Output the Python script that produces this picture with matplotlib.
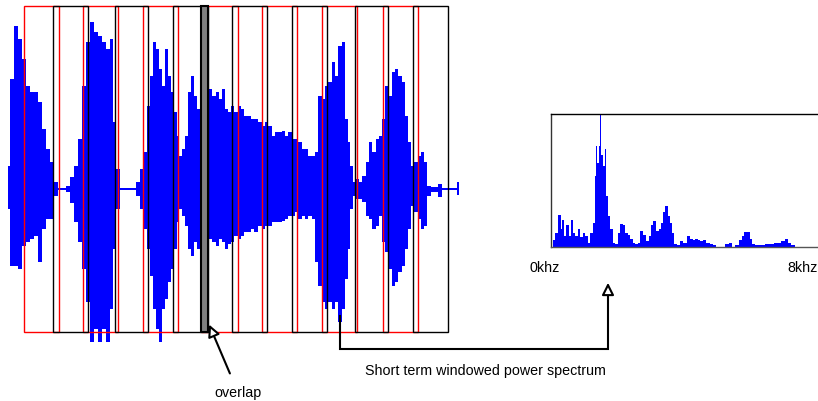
import matplotlib
matplotlib.use("Agg")
from matplotlib import pyplot as plt
from matplotlib.patches import Rectangle

plt.rcParams["font.family"] = ["Liberation Sans", "DejaVu Sans"]

# speech waveform envelope (time in ms, amplitude in arbitrary units)
wave_t = [0, 10, 20, 30, 40, 50, 60, 70, 80, 90, 100, 110, 120, 130, 140, 150,
          160, 170, 180, 190, 200, 210, 220, 230, 240, 250, 260, 267.5, 275, 285,
          295, 305, 315, 325, 335, 342.5, 350, 357.5, 365, 372.5, 380, 387.5, 395,
          402.5, 410, 417.5, 425, 432.5, 440, 447.5, 455, 462.5, 470, 477.5, 485,
          492.5, 500, 507.5, 515, 525, 532.5, 540, 547.5, 555, 562.5, 570, 580,
          587.5, 595, 605, 612.5, 620, 630, 637.5, 645, 655, 662.5, 670, 680,
          687.5, 695, 705, 712.5, 720, 730, 737.5, 745, 755, 762.5, 770, 780,
          787.5, 795, 805, 812.5, 820, 830, 837.5, 845, 852.5, 860, 867.5, 875,
          882.5, 890, 900, 907.5, 915, 925, 932.5, 940, 947.5, 955, 965, 972.5,
          980, 990, 997.5, 1005, 1012.5, 1020, 1030, 1037.5, 1045, 1052.5, 1062.5,
          1070, 1080, 1090, 1100, 1110, 1120, 1127.5]
wave_top = [23, 110, 163, 150, 130, 103, 97, 97, 87, 60, 40, 27, 7, 1, 1, 3,
            12, 23, 50, 103, 147, 167, 157, 153, 147, 140, 150, 67, 20, 1,
            1, 1, 1, 7, 20, 37, 83, 113, 147, 140, 120, 103, 140,
            113, 97, 77, 53, 33, 40, 53, 97, 113, 93, 80, 90,
            95, 93, 100, 93, 97, 90, 100, 80, 77, 83, 77, 83,
            80, 73, 73, 70, 70, 67, 63, 67, 63, 53, 57, 57,
            58, 53, 57, 50, 50, 47, 40, 40, 33, 33, 37, 93,
            90, 103, 107, 127, 113, 143, 147, 70, 47, 23, 7, 10,
            7, 13, 27, 47, 37, 50, 53, 70, 103, 93, 117, 120,
            113, 107, 73, 47, 23, 27, 33, 37, 27, 3, 2,
            2, 5, 1, 1, 1, 1, 7]
wave_bot = [-20, -77, -77, -80, -57, -53, -50, -47, -73, -40, -30, -30, -7, -1, -1, -3,
            -14, -33, -53, -80, -113, -153, -140, -153, -140, -153, -120, -60, -20, -1,
            -1, -1, -1, -7, -20, -40, -60, -87, -120, -140, -153, -120, -110,
            -93, -80, -60, -33, -20, -27, -37, -60, -67, -53, -60, -55,
            -58, -60, -50, -53, -57, -50, -53, -60, -55, -53, -47, -50,
            -47, -43, -43, -40, -43, -37, -40, -37, -37, -33, -33, -33,
            -32, -30, -27, -27, -23, -30, -27, -30, -27, -30, -73, -97,
            -113, -120, -113, -120, -113, -133, -120, -90, -60, -20, -7, -10,
            -10, -13, -27, -30, -40, -37, -27, -53, -63, -80, -97, -93,
            -83, -77, -60, -40, -17, -23, -30, -40, -37, -7, -3,
            -3, -8, -1, -1, -1, -1, -6]

# analysis windows (ms)
red_start = [40, 187.5, 337.5, 482, 635, 785, 937.5]
red_end = [127.5, 275, 425, 575, 722.5, 872.5, 1025]
black_start = [112.5, 267.5, 412.5, 560, 710, 867.5, 1012.5]
black_end = [200, 350, 500, 647.5, 797.5, 950, 1100]

# short term power spectrum (kHz, relative power)
spec_f = [0.06, 0.18, 0.27, 0.33, 0.36, 0.42, 0.51, 0.57, 0.63, 0.69, 0.78, 0.84,
          0.93, 0.99, 1.08, 1.14, 1.23, 1.29, 1.35, 1.38, 1.41, 1.47, 1.50, 1.53,
          1.59, 1.65, 1.68, 1.74, 1.83, 1.89, 1.98, 2.04, 2.13, 2.19, 2.28, 2.34,
          2.43, 2.49, 2.57, 2.63, 2.72, 2.81, 2.90, 2.96, 3.02, 3.11, 3.20, 3.26,
          3.32, 3.38, 3.47, 3.53, 3.59, 3.65, 3.74, 3.80, 3.92, 4.01, 4.13, 4.22,
          4.28, 4.37, 4.43, 4.52, 4.61, 4.70, 4.82, 4.91, 5.00, 5.15, 5.27, 5.36,
          5.45, 5.57, 5.66, 5.75, 5.81, 5.90, 5.99, 6.05, 6.17, 6.32, 6.47, 6.62,
          6.71, 6.80, 6.95, 7.04, 7.13, 7.25, 7.37]
spec_p = [0.05, 0.10, 0.24, 0.13, 0.20, 0.08, 0.16, 0.08, 0.20, 0.10, 0.08, 0.13,
          0.07, 0.10, 0.08, 0.03, 0.10, 0.18, 0.53, 0.76, 0.63, 0.76, 1.00, 0.69,
          0.61, 0.74, 0.38, 0.23, 0.13, 0.03, 0.02, 0.10, 0.17, 0.16, 0.10, 0.09,
          0.06, 0.03, 0.02, 0.03, 0.12, 0.09, 0.04, 0.08, 0.16, 0.19, 0.12, 0.13,
          0.18, 0.26, 0.31, 0.23, 0.18, 0.10, 0.02, 0.01, 0.04, 0.03, 0.08, 0.06,
          0.05, 0.06, 0.05, 0.04, 0.05, 0.03, 0.02, 0.01, 0.00, 0.00, 0.02, 0.03,
          0.00, 0.01, 0.05, 0.08, 0.11, 0.11, 0.06, 0.02, 0.01, 0.01, 0.02, 0.02,
          0.03, 0.03, 0.04, 0.06, 0.03, 0.01, 0.00]

W, H = 818, 402
fig = plt.figure(figsize=(W / 100, H / 100), dpi=100)

# waveform + windows, full figure axes
ax = fig.add_axes([0, 0, 1, 1])
ax.set_xlim(-20, 2025)
ax.set_ylim(-212, 190)
ax.axis("off")
ax.fill_between(wave_t, wave_bot, wave_top, step="mid", color="#0000ff", lw=0, zorder=1)

win_top, win_bot = 183, -143
for s, e in zip(red_start, red_end):
    ax.add_patch(Rectangle((s, win_bot), e - s, win_top - win_bot, fill=False,
                           ec="red", lw=1.0, zorder=3))
for s, e in zip(black_start, black_end):
    ax.add_patch(Rectangle((s, win_bot), e - s, win_top - win_bot, fill=False,
                           ec="black", lw=1.0, zorder=3))

# highlighted overlap between two neighbouring windows
ov_s, ov_e = red_start[3], black_end[2]
ax.add_patch(Rectangle((ov_s, win_bot), ov_e - ov_s, win_top - win_bot,
                       fc="#808080", ec="black", lw=1.5, zorder=4))

# spectrum
ax2 = fig.add_axes([550.7 / W, (H - 247.7) / H, (822 - 550.7) / W, (247.7 - 115) / H])
ax2.fill_between(spec_f, 0, spec_p, step="mid", color="#0000ff", lw=0)
ax2.set_xlim(0, 8.11)
ax2.set_ylim(0, 1.0)
ax2.set_xticks([])
ax2.set_yticks([])
ax2.spines["right"].set_visible(False)
ax2.spines["top"].set_color("black")
ax2.spines["left"].set_color("#333333")
ax2.spines["bottom"].set_color("#555555")
for sp in ax2.spines.values():
    sp.set_linewidth(1.0)

# annotations in pixel coordinates
ann = fig.add_axes([0, 0, 1, 1], zorder=10)
ann.set_xlim(0, W)
ann.set_ylim(H, 0)
ann.axis("off")
ann.patch.set_alpha(0)

head = dict(arrowstyle="-|>", fc="white", ec="black", lw=1.5, mutation_scale=18)
ann.annotate("", xy=(208, 323), xytext=(231, 377), arrowprops=head)
ann.plot([339.5, 339.5, 608, 608], [317, 350, 350, 294], color="black", lw=1.5,
         solid_joinstyle="miter")
ann.annotate("", xy=(608, 281), xytext=(608, 296), arrowprops=head)

fs = 10.3
ann.text(530, 268, "0khz", ha="left", va="center", fontsize=fs)
ann.text(818, 268, "8khz", ha="right", va="center", fontsize=fs)
ann.text(365, 371, "Short term windowed power spectrum", ha="left", va="center", fontsize=fs)
ann.text(238, 393, "overlap", ha="center", va="center", fontsize=fs)

fig.savefig("out.png", dpi=100)
